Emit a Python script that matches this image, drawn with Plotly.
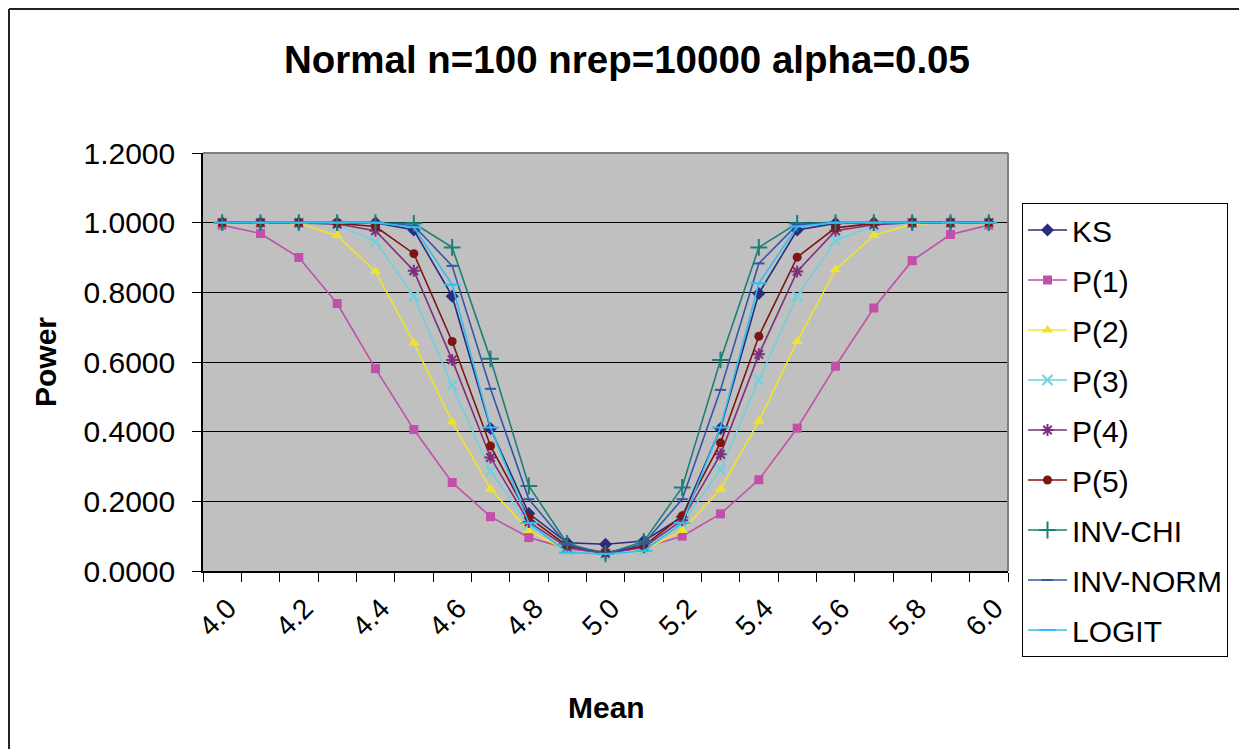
import plotly.graph_objects as go

means = [4.0, 4.1, 4.2, 4.3, 4.4, 4.5, 4.6, 4.7, 4.8, 4.9, 5.0,
         5.1, 5.2, 5.3, 5.4, 5.5, 5.6, 5.7, 5.8, 5.9, 6.0]
tick_means = [4.0, 4.2, 4.4, 4.6, 4.8, 5.0, 5.2, 5.4, 5.6, 5.8, 6.0]

ks = [1.0, 1.0, 1.0, 1.0, 1.0, 0.979, 0.789, 0.409, 0.165, 0.081, 0.077,
      0.086, 0.155, 0.409, 0.797, 0.979, 0.998, 1.0, 1.0, 1.0, 1.0]
p1 = [0.993, 0.969, 0.900, 0.768, 0.581, 0.406, 0.254, 0.156, 0.096, 0.065, 0.050,
      0.068, 0.100, 0.164, 0.262, 0.410, 0.588, 0.755, 0.891, 0.966, 0.993]
p2 = [1.0, 1.0, 0.998, 0.963, 0.860, 0.655, 0.428, 0.235, 0.116, 0.058, 0.046,
      0.060, 0.116, 0.235, 0.430, 0.659, 0.865, 0.963, 0.996, 1.0, 1.0]
p3 = [1.0, 1.0, 1.0, 0.994, 0.946, 0.789, 0.533, 0.287, 0.132, 0.058, 0.046,
      0.058, 0.137, 0.291, 0.549, 0.789, 0.948, 0.991, 1.0, 1.0, 1.0]
p4 = [1.0, 1.0, 1.0, 0.996, 0.977, 0.862, 0.606, 0.326, 0.141, 0.068, 0.051,
      0.068, 0.146, 0.335, 0.622, 0.860, 0.977, 0.994, 1.0, 1.0, 1.0]
p5 = [1.0, 1.0, 1.0, 0.998, 0.989, 0.911, 0.659, 0.359, 0.154, 0.072, 0.053,
      0.072, 0.158, 0.368, 0.674, 0.901, 0.985, 0.998, 1.0, 1.0, 1.0]
inv_chi = [1.0, 1.0, 1.0, 1.0, 1.0, 0.998, 0.929, 0.609, 0.244, 0.079, 0.049,
           0.085, 0.240, 0.606, 0.929, 0.998, 1.0, 1.0, 1.0, 1.0, 1.0]
inv_norm = [1.0, 1.0, 1.0, 1.0, 1.0, 0.991, 0.876, 0.523, 0.206, 0.075, 0.049,
            0.079, 0.206, 0.520, 0.883, 0.994, 1.0, 1.0, 1.0, 1.0, 1.0]
logit = [1.0, 1.0, 1.0, 1.0, 1.0, 0.987, 0.822, 0.412, 0.138, 0.053, 0.049,
         0.058, 0.138, 0.412, 0.826, 0.989, 1.0, 1.0, 1.0, 1.0, 1.0]

series_names = ["KS", "P(1)", "P(2)", "P(3)", "P(4)", "P(5)", "INV-CHI", "INV-NORM", "LOGIT"]
series_values = [ks, p1, p2, p3, p4, p5, inv_chi, inv_norm, logit]
series_colors = ["#2B2B80", "#C24FA8", "#F0E42A", "#6FD0DE", "#7E2E7E",
                 "#7F1414", "#1B7F78", "#3456A8", "#2EC0F0"]
series_symbols = ["diamond", "square", "triangle-up", "x-thin-open", "asterisk-open",
                  "circle", "cross-thin-open", "line-ew-open", "line-ew-open"]
series_sizes = [10, 9, 10, 10, 10, 9, 12, 8, 12]

# page body has an 8px default margin: work in page pixels, shifted by OFF
OFF = 8
PAGE_W, PAGE_H = 1247, 749
W, H = PAGE_W - OFF, PAGE_H - OFF
PL, PR, PT, PB = 203, 1008, 153, 571          # plot area in page pixels
L, T = PL - OFF, PT - OFF
R, B = W - (PR - OFF), H - (PB - OFF)
PW, PH = W - L - R, H - T - B

def px_x(px):
    return (px - OFF - L) / PW

def px_y(py):
    return (H - B - (py - OFF)) / PH

FONT = "Liberation Sans, Arial, sans-serif"

fig = go.Figure()
for name, vals, col, sym, sz in zip(series_names, series_values, series_colors,
                                    series_symbols, series_sizes):
    open_sym = sym.endswith("-open")
    fig.add_trace(go.Scatter(
        x=means, y=vals, name=name, mode="lines+markers", legendgroup=name,
        line=dict(color=col, width=1.6),
        marker=dict(symbol=sym, size=sz, color=col,
                    line=dict(color=col, width=2 if open_sym else 0)),
    ))

minor_vals = [m - 0.05 for m in means] + [means[-1] + 0.05]

fig.update_layout(
    width=W, height=H,
    margin=dict(l=L, r=R, t=T, b=B, autoexpand=False),
    paper_bgcolor="white", plot_bgcolor="#C0C0C0",
    font=dict(family=FONT, color="black"),
    showlegend=True,
    legend=dict(x=px_x(1022), y=px_y(203), xanchor="left", yanchor="top",
                bgcolor="white", bordercolor="black", borderwidth=1,
                font=dict(size=30, family=FONT), tracegroupgap=8,
                itemwidth=39, maxheight=600),
    xaxis=dict(range=[means[0] - 0.05, means[-1] + 0.05],
               tickmode="array", tickvals=tick_means,
               ticktext=[f"{v:.1f}" for v in tick_means],
               tickangle=-45, tickfont=dict(size=28),
               ticks="", showgrid=False, zeroline=False,
               ticklabelstandoff=8, ticklabelshift=6,
               showline=True, linecolor="black", linewidth=1.5,
               minor=dict(tickmode="array", tickvals=minor_vals, ticks="outside",
                          ticklen=9, tickcolor="black", tickwidth=1, showgrid=False)),
    yaxis=dict(range=[0, 1.2], dtick=0.2, tickformat=".4f",
               tickfont=dict(size=30), ticks="outside", ticklen=9,
               tickcolor="black", showgrid=True, gridcolor="black", gridwidth=1,
               zeroline=False, showline=True, linecolor="black", linewidth=1.5,
               ticklabelstandoff=11),
    annotations=[
        dict(text="<b>Normal n=100 nrep=10000 alpha=0.05</b>", xref="paper", yref="paper",
             x=px_x(627), y=px_y(60), xanchor="center", yanchor="middle",
             showarrow=False, font=dict(size=38.5, family=FONT)),
        dict(text="<b>Power</b>", xref="paper", yref="paper",
             x=px_x(45), y=px_y(362), xanchor="center", yanchor="middle",
             textangle=-90, showarrow=False, font=dict(size=30, family=FONT)),
        dict(text="<b>Mean</b>", xref="paper", yref="paper",
             x=px_x(606), y=px_y(707), xanchor="center", yanchor="middle",
             showarrow=False, font=dict(size=30, family=FONT)),
    ],
    shapes=[
        dict(type="line", xref="paper", yref="paper", x0=1, x1=1, y0=0, y1=1,
             line=dict(color="#808080", width=2), layer="above"),
        dict(type="line", xref="paper", yref="paper", x0=0, x1=1, y0=1, y1=1,
             line=dict(color="#808080", width=2), layer="above"),
        # outer chart frame (left and top edges), as close to the page corner as the page allows
        dict(type="line", xref="paper", yref="paper", x0=px_x(OFF + 1), x1=px_x(OFF + 1),
             y0=px_y(OFF + 1), y1=px_y(800), line=dict(color="#222222", width=2)),
        dict(type="line", xref="paper", yref="paper", x0=px_x(OFF + 1), x1=px_x(1300),
             y0=px_y(OFF + 1), y1=px_y(OFF + 1), line=dict(color="#222222", width=2)),
    ],
)

fig.write_html("out.html")
